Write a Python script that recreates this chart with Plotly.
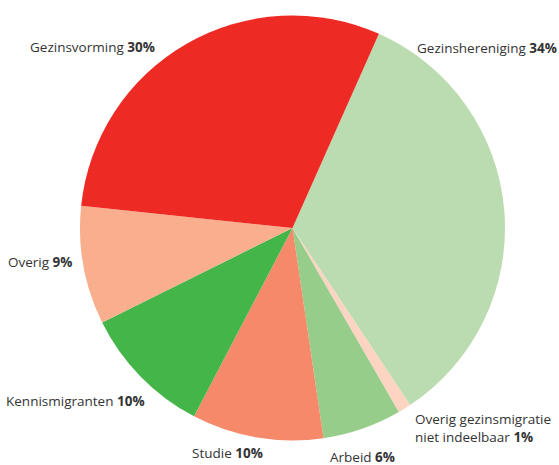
import plotly.graph_objects as go

# Data (clockwise order starting at the top-right)
categories = ["Gezinshereniging", "Overig gezinsmigratie<br>niet indeelbaar", "Arbeid",
              "Studie", "Kennismigranten", "Overig", "Gezinsvorming"]
values = [34, 1, 6, 10, 10, 9, 30]
colors = ["#bbdcb0", "#fdd4c1", "#97cd8a", "#f5896a", "#44b649", "#f9ae8e", "#ee2a24"]

W, H = 559, 465

fig = go.Figure(go.Pie(
    labels=categories,
    values=values,
    marker=dict(colors=colors, line=dict(width=0)),
    sort=False,
    direction="clockwise",
    rotation=24,
    textinfo="none",
    hoverinfo="label+percent",
    showlegend=False,
    domain=dict(x=[80 / W, 505 / W], y=[(H - 441) / H, (H - 15) / H]),
))

# Label placement (pixel positions, anchor)
label_pos = [
    (415, 48, "left"),
    (413, 428, "left"),
    (328, 457, "left"),
    (265, 453, "right"),
    (147, 401, "right"),
    (74, 262, "right"),
    (157, 47, "right"),
]

annotations = []
for cat, val, (px, py, anchor) in zip(categories, values, label_pos):
    annotations.append(dict(
        text=f"{cat} <b>{val}%</b>",
        x=px / W, y=1 - py / H, xref="paper", yref="paper",
        xanchor=anchor, yanchor="middle", align="left",
        showarrow=False,
        font=dict(family="Open Sans", size=13.5, color="#333333"),
    ))

fig.update_layout(
    width=W, height=H,
    margin=dict(l=0, r=0, t=0, b=0),
    paper_bgcolor="white",
    plot_bgcolor="white",
    annotations=annotations,
)

fig.write_html("out.html", config={"displayModeBar": False},
               post_script="document.body.style.margin='0';document.body.style.overflow='hidden';")
